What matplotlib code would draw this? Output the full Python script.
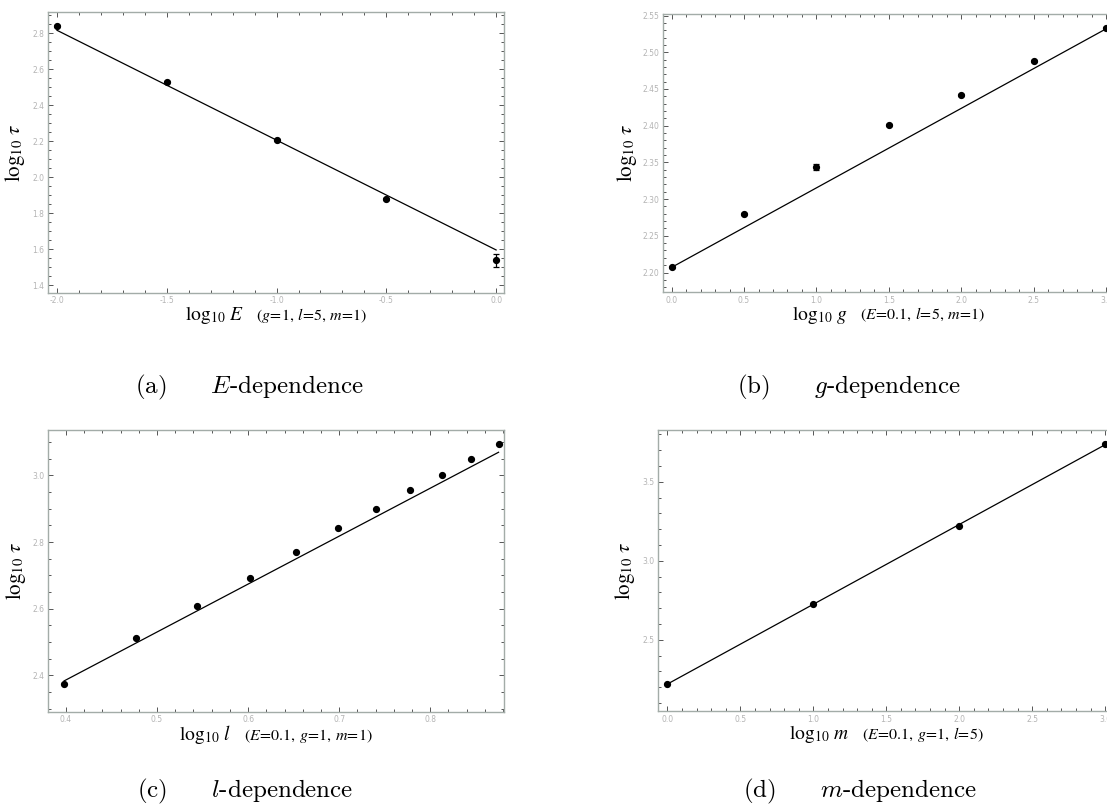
#!/usr/bin/env python3

import numpy as np
import matplotlib
matplotlib.use('Agg')
import matplotlib.pyplot as plt
from matplotlib.ticker import MultipleLocator, FormatStrFormatter
from matplotlib.offsetbox import TextArea, HPacker, AnnotationBbox

# (a) E-dependence
logE = [-2.0, -1.5, -1.0, -0.5, 0.0]
tauE = [2.840, 2.530, 2.205, 1.880, 1.537]
errE = [0.004, 0.004, 0.004, 0.006, 0.035]
fitE = (-0.610, 1.595)  # slope, intercept

# (b) g-dependence
logg = [0.0, 0.5, 1.0, 1.5, 2.0, 2.5, 3.0]
taug = [2.207, 2.280, 2.344, 2.401, 2.442, 2.488, 2.533]
errg = [0.001, 0.001, 0.004, 0.001, 0.001, 0.001, 0.001]
fitg = (0.1083, 2.207)

# (c) l-dependence
logl = [0.398, 0.477, 0.544, 0.602, 0.653, 0.699, 0.740, 0.778, 0.813, 0.845, 0.875]
taul = [2.374, 2.511, 2.609, 2.691, 2.771, 2.841, 2.898, 2.955, 3.001, 3.050, 3.095]
fitl = (1.438, 1.811)

# (d) m-dependence
logm = [0.0, 1.0, 2.0, 3.0]
taum = [2.220, 2.726, 3.223, 3.739]
fitm = (0.505, 2.220)

plt.rcParams['axes.unicode_minus'] = False

FRAME = '#a3aca8'
TICKLAB = '#b4b4b4'

fig = plt.figure(figsize=(11.07, 8.08), dpi=100)


def make_axes(rect, xlim, ylim, xmaj, xmin, ymaj, ymin, xfmt, yfmt):
    ax = fig.add_axes(rect)
    ax.set_xlim(*xlim)
    ax.set_ylim(*ylim)
    ax.xaxis.set_major_locator(MultipleLocator(xmaj))
    ax.xaxis.set_minor_locator(MultipleLocator(xmin))
    ax.yaxis.set_major_locator(MultipleLocator(ymaj))
    ax.yaxis.set_minor_locator(MultipleLocator(ymin))
    ax.xaxis.set_major_formatter(FormatStrFormatter(xfmt))
    ax.yaxis.set_major_formatter(FormatStrFormatter(yfmt))
    for s in ax.spines.values():
        s.set_color(FRAME)
        s.set_linewidth(1.0)
    ax.tick_params(which='both', direction='in', top=True, right=True,
                   color='#555555', width=0.7, labelsize=5.5,
                   labelcolor=TICKLAB, pad=2.5)
    ax.tick_params(which='major', length=3.5)
    ax.tick_params(which='minor', length=2)
    return ax


def draw(ax, x, y, fit, yerr=None):
    x = np.asarray(x)
    slope, icpt = fit
    xs = np.array([x.min(), x.max()])
    ax.plot(xs, slope * xs + icpt, color='black', lw=0.9, zorder=2)
    if yerr is not None:
        ax.errorbar(x, y, yerr=yerr, fmt='o', color='black', ms=4.2,
                    elinewidth=0.9, capsize=2.2, capthick=0.9, zorder=3)
    else:
        ax.plot(x, y, 'o', color='black', ms=4.2, zorder=3)


def labels(ax, var, params, ylx):
    ax.set_ylabel(r'$\log_{10}\,\tau$', fontsize=15, math_fontfamily='stix')
    ax.yaxis.set_label_coords(ylx, 0.5)
    box = HPacker(children=[
        TextArea(r'$\log_{10}\,' + var + '$',
                 textprops=dict(size=14, math_fontfamily='stix')),
        TextArea(params, textprops=dict(size=11.5, math_fontfamily='stix'))],
        align='baseline', pad=0, sep=9)
    ab = AnnotationBbox(box, (0.5, -0.08), xycoords='axes fraction',
                        frameon=False, box_alignment=(0.5, 0.5))
    ax.add_artist(ab)


axa = make_axes([0.0434, 0.6374, 0.4119, 0.3478], (-2.041, 0.036), (1.356, 2.917),
                0.5, 0.1, 0.2, 0.05, '%.1f', '%.1f')
draw(axa, logE, tauE, fitE, errE)
labels(axa, 'E', r'$(g\!=\!1,\,l\!=\!5,\,m\!=\!1)$', -0.046)

axb = make_axes([0.5986, 0.6382, 0.4087, 0.3444], (-0.062, 3.062), (2.173, 2.552),
                0.5, 0.1, 0.05, 0.01, '%.1f', '%.2f')
draw(axb, logg, taug, fitg, errg)
labels(axb, 'g', r'$(E\!=\!0.1,\,l\!=\!5,\,m\!=\!1)$', -0.053)

axc = make_axes([0.0436, 0.1192, 0.4117, 0.3486], (0.3806, 0.881), (2.291, 3.136),
                0.1, 0.02, 0.2, 0.05, '%.1f', '%.1f')
draw(axc, logl, taul, fitl)
labels(axc, 'l', r'$(E\!=\!0.1,\,g\!=\!1,\,m\!=\!1)$', -0.044)

axd = make_axes([0.5944, 0.1200, 0.4125, 0.3480], (-0.065, 3.065), (2.049, 3.829),
                0.5, 0.1, 0.5, 0.1, '%.1f', '%.1f')
draw(axd, logm, taum, fitm)
labels(axd, 'm', r'$(E\!=\!0.1,\,g\!=\!1,\,l\!=\!5)$', -0.046)

captions = [(0.2254, 0.521, r'(a)$\qquad E$-dependence'),
            (0.7670, 0.521, r'(b)$\qquad g$-dependence'),
            (0.2218, 0.020, r'(c)$\qquad l$-dependence'),
            (0.7764, 0.020, r'(d)$\qquad m$-dependence')]
for cx, cy, txt in captions:
    fig.text(cx, cy, txt, ha='center', va='center', fontsize=18,
             family='cmr10', math_fontfamily='cm')

fig.savefig('out.png', dpi=100)
